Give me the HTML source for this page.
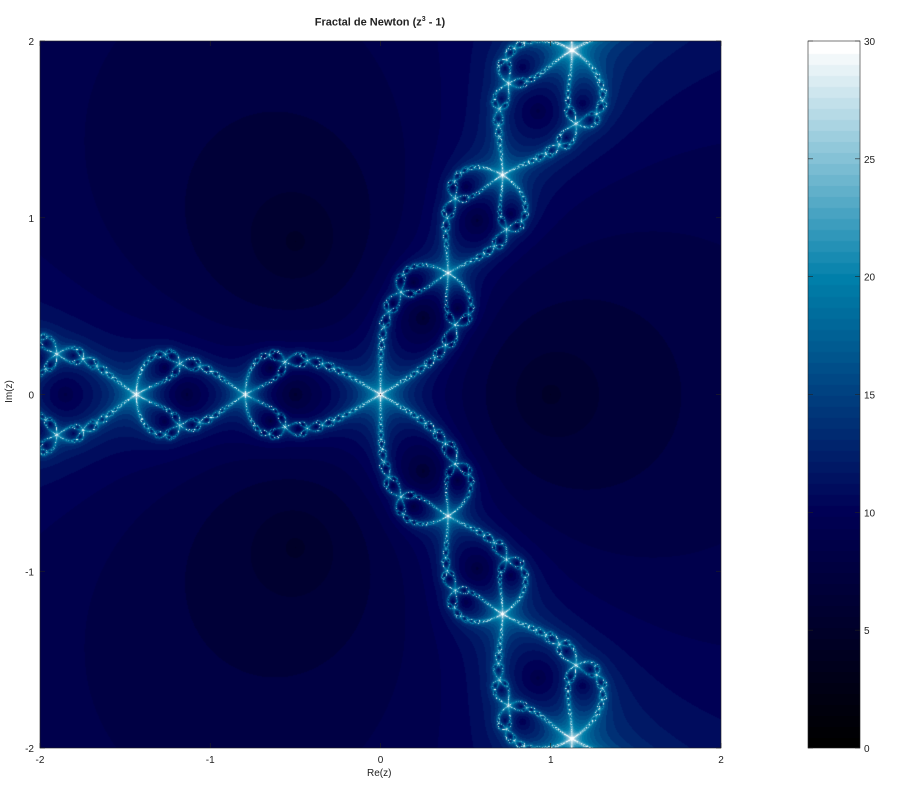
<!DOCTYPE html>
<html><head><meta charset="utf-8"><style>
body{margin:0;background:#fff;width:910px;height:800px;position:relative;font-family:"Liberation Sans",sans-serif;overflow:hidden}
.t{position:absolute;font-size:10px;color:#222;white-space:nowrap}
canvas{position:absolute}
</style></head><body>
<div class="t" style="left:0;width:760px;top:16px;text-align:center;font-weight:bold;font-size:11px">Fractal de Newton (z<sup style="font-size:7px">3</sup> - 1)</div>
<canvas id="plot" width="681" height="707" style="left:40px;top:41px"></canvas>
<canvas id="cbar" width="52" height="707" style="left:808px;top:41px"></canvas>
<svg id="ax" width="910" height="800" style="position:absolute;left:0;top:0"></svg>
<div class="t" style="left:367px;top:768px">Re(z)</div>
<div class="t" style="left:-2px;top:386px;transform:rotate(-90deg)">Im(z)</div>
<script>
const xTicks=[-2,-1,0,1,2];
const yTicks=[2,1,0,-1,-2];
const cTicks=[0,5,10,15,20,25,30];
const maxIter=[30];
const iterOffset=[2];
const L=40,T=41,W=681,H=707;
const xs=v=>L+(v+2)/4*W, ys=v=>T+(2-v)/4*H;
const cb=v=>T+H-(v/30)*H;
function ocean(t){t=Math.max(0,Math.min(1,t));
 t=Math.min(63,Math.floor(t*64))/63;
 const r=t<2/3?0:(t-2/3)*3, g=t<1/3?0:(t-1/3)*1.5, b=t;
 return [r*255|0,g*255|0,b*255|0];}
const c=document.getElementById('plot').getContext('2d');
const img=c.createImageData(W,H);
for(let py=0;py<H;py++){for(let px=0;px<W;px++){
 let x=-2+4*(px+0.5)/W, y=2-4*(py+0.5)/H, n=0;
 for(;n<maxIter[0];n++){
  let x2=x*x-y*y,y2=2*x*y;
  let d=3*(x2*x2+y2*y2); if(d===0)break;
  let x3=x2*x-y2*y-1,y3=x2*y+y2*x;
  let qx=(x3*x2+y3*y2)/d, qy=(y3*x2-x3*y2)/d;
  x-=qx;y-=qy;
  if(qx*qx+qy*qy<1e-20)break;
 }
 const v=Math.min(30,n+iterOffset[0]);
 const col=ocean(v/30),i=(py*W+px)*4;
 img.data[i]=col[0];img.data[i+1]=col[1];img.data[i+2]=col[2];img.data[i+3]=255;
}}
c.putImageData(img,0,0);
const cc=document.getElementById('cbar').getContext('2d');
for(let k=0;k<64;k++){const col=ocean((k+0.5)/64);cc.fillStyle=`rgb(${col})`;
 const y0=H-(k+1)/64*H;cc.fillRect(0,Math.floor(y0),52,Math.ceil(H/64)+1);}
const svg=document.getElementById('ax');const NS='http://www.w3.org/2000/svg';
function el(tag,a){const e=document.createElementNS(NS,tag);for(const k in a)e.setAttribute(k,a[k]);svg.appendChild(e);return e;}
let r=el('rect',{x:L,y:T,width:W,height:H,fill:'none',stroke:'#222','stroke-width':0.6});


r=el('rect',{x:808,y:T,width:52,height:H,fill:'none',stroke:'#222','stroke-width':0.6});


xTicks.forEach(v=>{const x=xs(v);
 el('line',{x1:x,x2:x,y1:T+H,y2:T+H-5,stroke:'#222','stroke-width':0.6});
 el('line',{x1:x,x2:x,y1:T,y2:T+5,stroke:'#222','stroke-width':0.6});
 const t=el('text',{x:x,y:T+H+15,'text-anchor':'middle','font-size':10,fill:'#222'});t.textContent=v;
 
 });
yTicks.forEach(v=>{const y=ys(v);
 el('line',{x1:L,x2:L+5,y1:y,y2:y,stroke:'#222','stroke-width':0.6});
 el('line',{x1:L+W,x2:L+W-5,y1:y,y2:y,stroke:'#222','stroke-width':0.6});
 const t=el('text',{x:L-6,y:y+4,'text-anchor':'end','font-size':10,fill:'#222'});t.textContent=v;
 
 });
cTicks.forEach(v=>{const y=cb(v);
 el('line',{x1:855,x2:860,y1:y,y2:y,stroke:'#222','stroke-width':0.6});
 el('line',{x1:808,x2:813,y1:y,y2:y,stroke:'#222','stroke-width':0.6});
 const t=el('text',{x:864,y:y+4,'font-size':10,fill:'#222'});t.textContent=v;
 
 });
</script>
</body></html>
